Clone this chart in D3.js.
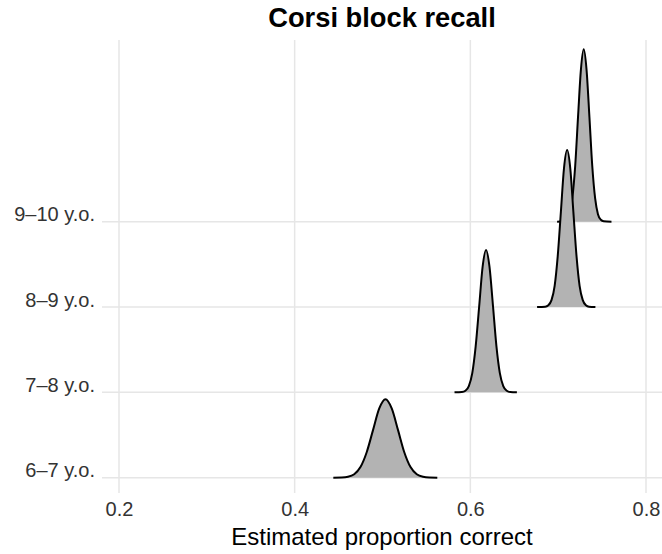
<!DOCTYPE html>
<html>
<head>
<meta charset="utf-8">
<script src="https://cdn.jsdelivr.net/npm/d3@7"></script>
<style>
  html, body { margin: 0; padding: 0; background: #fff; }
  svg { display: block; font-family: "Liberation Sans", Arial, Helvetica, sans-serif; }
</style>
</head>
<body>
<svg id="chart" width="662" height="554"></svg>
<script>
// Age groups, bottom row first
const categories = ["6–7 y.o.", "7–8 y.o.", "8–9 y.o.", "9–10 y.o."];

// Posterior density of proportion correct, per age group (x = proportion, d = density)
const x67 = [0.4440, 0.4535, 0.4607, 0.4678, 0.4749, 0.4820, 0.4892, 0.4963, 0.5034,
             0.5105, 0.5177, 0.5248, 0.5319, 0.5390, 0.5462, 0.5533, 0.5624];
const d67 = [0.00, 0.06, 0.31, 1.23, 3.79, 9.09, 16.98, 24.71, 28.00,
             24.71, 16.98, 9.09, 3.79, 1.23, 0.31, 0.06, 0.00];

const x78 = [0.5820, 0.5904, 0.5944, 0.5983, 0.6022, 0.6061, 0.6101, 0.6140, 0.6179,
             0.6218, 0.6258, 0.6297, 0.6336, 0.6375, 0.6415, 0.6454, 0.6530];
const d78 = [0.00, 0.11, 0.56, 2.23, 6.87, 16.49, 30.81, 44.83, 50.80,
             44.83, 30.81, 16.49, 6.87, 2.23, 0.56, 0.11, 0.00];

const x89 = [0.6760, 0.6853, 0.6888, 0.6924, 0.6960, 0.6995, 0.7031, 0.7066, 0.7102,
             0.7138, 0.7173, 0.7209, 0.7244, 0.7280, 0.7316, 0.7351, 0.7424];
const d89 = [0.00, 0.12, 0.62, 2.46, 7.58, 18.18, 33.96, 49.42, 56.00,
             49.42, 33.96, 18.18, 7.58, 2.46, 0.62, 0.12, 0.00];

const x910 = [0.6988, 0.7064, 0.7096, 0.7129, 0.7161, 0.7194, 0.7226, 0.7259, 0.7291,
              0.7323, 0.7356, 0.7388, 0.7421, 0.7453, 0.7486, 0.7518, 0.7607];
const d910 = [0.00, 0.14, 0.68, 2.70, 8.32, 19.97, 37.30, 54.27, 61.50,
              54.27, 37.30, 19.97, 8.32, 2.70, 0.68, 0.14, 0.00];

const xTicks = [0.2, 0.4, 0.6, 0.8];

const title = "Corsi block recall";
const xTitle = "Estimated proportion correct";

const groups = [
  { cat: categories[0], xs: x67, ds: d67 },
  { cat: categories[1], xs: x78, ds: d78 },
  { cat: categories[2], xs: x89, ds: d89 },
  { cat: categories[3], xs: x910, ds: d910 }
];

const svg = d3.select("#chart");

// Panel geometry
const panel = { left: 102, right: 662, top: 40, bottom: 493 };

const x = d3.scaleLinear().domain([0.2, 0.8]).range([119, 646]);
const y = d3.scalePoint().domain(categories).range([477.7, 221.7]);
const step = y.step();
const maxDens = d3.max(groups, g => d3.max(g.ds));
// ridges scaled so the tallest peak spans about two rows
const h = d3.scaleLinear().domain([0, maxDens]).range([0, 2.02 * step]);

const gridColor = "#e6e6e6";
const textColor = "#333333";
const axisFont = 20;

// vertical grid
svg.append("g").selectAll("line").data(xTicks).join("line")
  .attr("x1", d => x(d)).attr("x2", d => x(d))
  .attr("y1", panel.top).attr("y2", panel.bottom)
  .attr("stroke", gridColor).attr("stroke-width", 1.5);

// horizontal grid at each baseline
svg.append("g").selectAll("line").data(categories).join("line")
  .attr("x1", panel.left).attr("x2", panel.right)
  .attr("y1", d => y(d)).attr("y2", d => y(d))
  .attr("stroke", gridColor).attr("stroke-width", 1.5);

// ridges: draw top row first so lower rows sit in front
const ridgeOrder = groups.slice().reverse();
const ridgeG = svg.append("g");
ridgeOrder.forEach(g => {
  const base = y(g.cat);
  const pts = g.xs.map((v, i) => ({ x: v, d: g.ds[i] }));
  const area = d3.area()
    .x(p => x(p.x)).y0(base).y1(p => base - h(p.d))
    .curve(d3.curveMonotoneX);
  const line = d3.line()
    .x(p => x(p.x)).y(p => base - h(p.d))
    .curve(d3.curveMonotoneX);
  ridgeG.append("path").attr("d", area(pts)).attr("fill", "#b3b3b3");
  ridgeG.append("path").attr("d", line(pts)).attr("fill", "none")
    .attr("stroke", "#000").attr("stroke-width", 2).attr("stroke-linejoin", "round");
});

// x axis tick labels
const xAxis = d3.axisBottom(x).tickValues(xTicks).tickSize(0).tickPadding(0)
  .tickFormat(d3.format(".1f"));
const xa = svg.append("g").attr("transform", `translate(0, ${panel.bottom})`).call(xAxis);
xa.select(".domain").remove();
xa.selectAll("text").attr("y", 22.5).attr("dy", null)
  .attr("font-size", axisFont).attr("fill", textColor)
  .attr("font-family", "'Liberation Sans', Arial, sans-serif");

// y axis labels
const yAxis = d3.axisLeft(y).tickSize(0).tickPadding(0);
const ya = svg.append("g").attr("transform", "translate(95, 0)").call(yAxis);
ya.select(".domain").remove();
ya.selectAll("text").attr("x", 0).attr("dy", "-0.05em")
  .attr("dominant-baseline", "auto").attr("y", 0)
  .attr("font-size", axisFont).attr("fill", textColor)
  .attr("font-family", "'Liberation Sans', Arial, sans-serif");

// axis title
svg.append("text")
  .attr("x", (panel.left + panel.right) / 2).attr("y", 545)
  .attr("text-anchor", "middle").attr("font-size", 24).attr("fill", "#000")
  .text(xTitle);

// plot title
svg.append("text")
  .attr("x", (panel.left + panel.right) / 2).attr("y", 27)
  .attr("text-anchor", "middle").attr("font-size", 27.3).attr("font-weight", "bold")
  .attr("fill", "#000")
  .text(title);
</script>
</body>
</html>
